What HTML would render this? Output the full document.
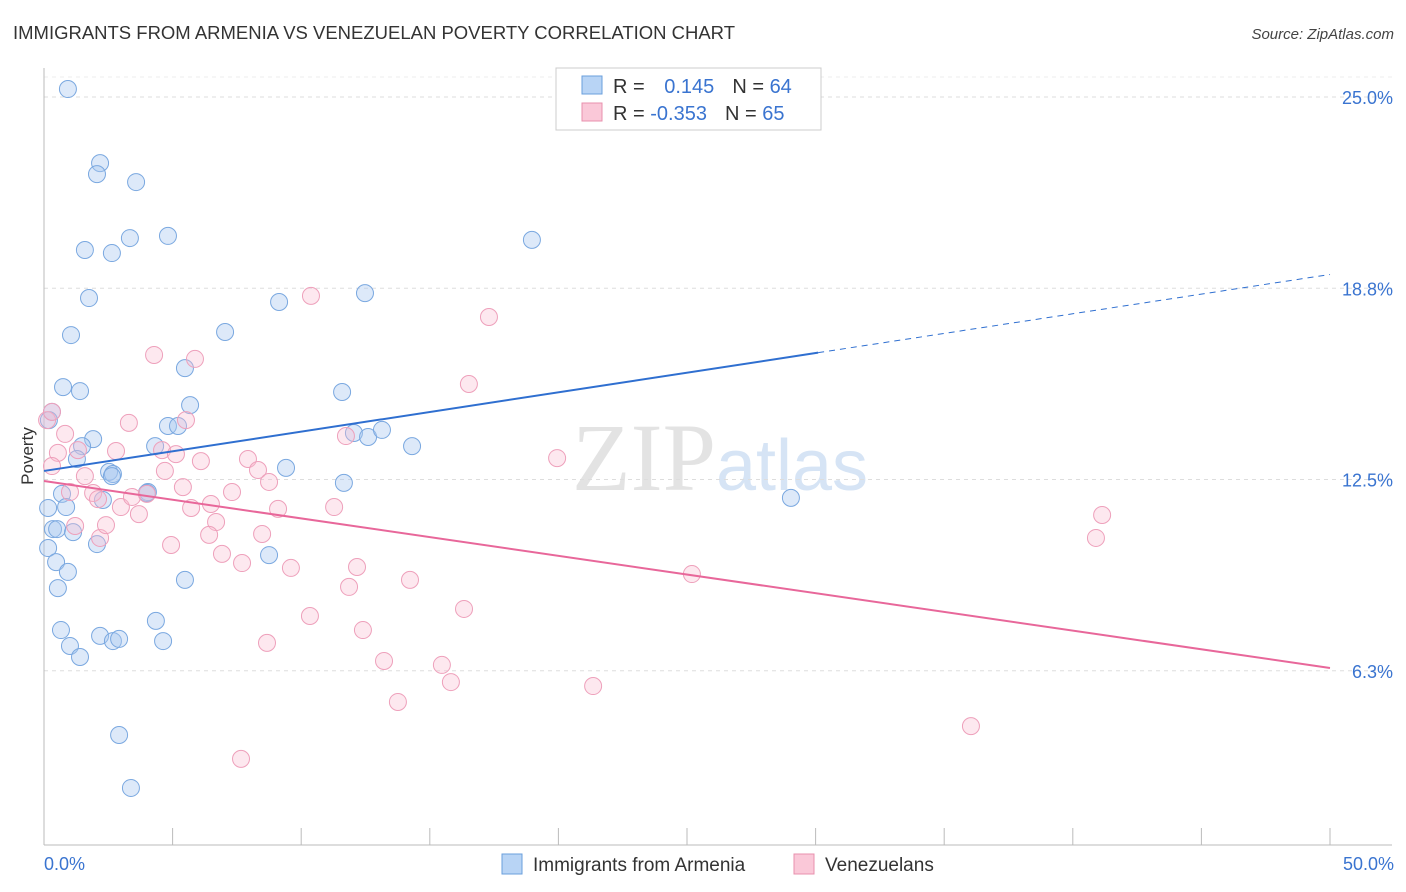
<!DOCTYPE html>
<html><head><meta charset="utf-8">
<style>
body{margin:0;background:#fff;font-family:"Liberation Sans",sans-serif;}
svg{display:block}
</style></head>
<body>
<svg id="chart" width="1406" height="892" xmlns="http://www.w3.org/2000/svg">
<text x="13" y="39" font-size="18.5" fill="#333" textLength="722" lengthAdjust="spacingAndGlyphs">IMMIGRANTS FROM ARMENIA VS VENEZUELAN POVERTY CORRELATION CHART</text>
<text x="1394" y="39" font-size="15" fill="#444" text-anchor="end" font-style="italic">Source: ZipAtlas.com</text>
<text x="720" y="490" font-size="96" fill="#e3e3e3" text-anchor="middle" font-family="Liberation Serif"><tspan>ZIP</tspan><tspan fill="#d6e4f5" font-family="Liberation Sans" font-size="72">atlas</tspan></text>
<g id="grid"></g>
<g id="axes"></g>
<g id="marks"></g>
<g id="trends"></g>
<text transform="translate(33,456) rotate(-90)" font-size="17" fill="#333" text-anchor="middle">Poverty</text>
<g>
<rect x="556" y="68" width="265" height="62" fill="#fff" stroke="#ccc"/>
<rect x="582" y="76" width="20" height="18" fill="#b8d4f5" stroke="#6a9fdc"/>
<rect x="582" y="103" width="20" height="18" fill="#fac8d8" stroke="#e890ae"/>
<text x="613" y="93" font-size="20" fill="#333">R = <tspan fill="#3a74d0" dx="14">0.145</tspan><tspan dx="18">N = </tspan><tspan fill="#3a74d0">64</tspan></text>
<text x="613" y="120" font-size="20" fill="#333">R = <tspan fill="#3a74d0">-0.353</tspan><tspan dx="18">N = </tspan><tspan fill="#3a74d0">65</tspan></text>
</g>
<g>
<rect x="502" y="854" width="20" height="20" fill="#b8d4f5" stroke="#6a9fdc"/>
<text x="533" y="871" font-size="19" fill="#333">Immigrants from Armenia</text>
<rect x="794" y="854" width="20" height="20" fill="#fac8d8" stroke="#e890ae"/>
<text x="825" y="871" font-size="19" fill="#333">Venezuelans</text>
</g>
</svg>
<script>
const blueX=[0.93,2.18,2.06,3.58,3.34,4.82,1.59,2.64,18.97,1.75,12.48,9.14,1.05,7.04,5.48,0.74,1.40,11.59,5.68,0.31,4.82,5.21,1.91,4.32,1.48,12.05,12.60,13.14,14.31,1.28,2.53,2.68,9.41,11.66,0.70,4.04,2.29,29.04,0.16,0.86,0.35,0.51,1.13,2.06,0.16,0.47,0.93,8.75,5.48,0.54,4.35,0.66,2.18,2.68,2.92,4.63,1.01,1.40,2.92,3.38,0.19,4.00,2.64];
const blueY=[25.26,22.84,22.48,22.22,20.39,20.46,20.0,19.90,20.33,18.43,18.59,18.30,17.22,17.32,16.14,15.52,15.39,15.36,14.93,14.71,14.25,14.25,13.82,13.59,13.59,14.02,13.89,14.12,13.59,13.17,12.75,12.68,12.88,12.39,12.03,12.09,11.83,11.90,11.57,11.60,10.88,10.88,10.78,10.39,10.26,9.80,9.48,10.03,9.22,8.95,7.88,7.58,7.39,7.22,7.29,7.22,7.06,6.70,4.15,2.42,14.44,12.06,12.61];
const pinkX=[0.12,0.31,0.82,0.54,1.32,1.59,0.31,1.01,1.91,2.10,1.21,2.18,2.41,2.99,3.30,2.80,3.42,3.69,4.00,4.28,5.87,5.52,4.59,5.13,4.70,5.40,6.10,5.72,6.49,6.69,6.42,4.94,6.92,7.31,7.70,7.93,8.32,8.75,9.10,8.48,9.60,10.38,17.30,16.52,11.74,11.28,12.17,11.86,14.23,16.33,10.34,12.40,8.67,13.22,15.47,15.82,13.76,7.66,19.95,25.19,21.35,41.14,40.90,36.04];
const pinkY=[14.44,14.71,13.99,13.37,13.46,12.61,12.94,12.09,12.06,11.86,10.98,10.59,11.01,11.60,14.35,13.43,11.93,11.37,12.03,16.57,16.44,14.44,13.46,13.33,12.78,12.25,13.10,11.57,11.70,11.11,10.69,10.36,10.07,12.09,9.77,13.17,12.81,12.42,11.54,10.72,9.61,18.50,17.81,15.62,13.92,11.60,9.64,8.99,9.22,8.27,8.04,7.58,7.16,6.57,6.44,5.88,5.23,3.37,13.20,9.41,5.75,11.34,10.59,4.44];
const yTicks=[25,18.75,12.5,6.25];
const yTickLabels=["25.0%","18.8%","12.5%","6.3%"];
const xTicks=[0,5,10,15,20,25,30,35,40,45,50];
const blueTrend=[12.78,19.2];
const blueSolidEnd=30.1;
const pinkTrend=[12.45,6.34];
const NS="http://www.w3.org/2000/svg";
const X=v=>44+v/50*1286;
const Y=v=>97+(25-v)*30.6;
function mk(tag,attrs,parent){const e=document.createElementNS(NS,tag);for(const k in attrs)e.setAttribute(k,attrs[k]);parent.appendChild(e);return e;}
const grid=document.getElementById('grid'),axes=document.getElementById('axes'),marks=document.getElementById('marks'),trends=document.getElementById('trends');
yTicks.forEach((t,i)=>{
 const l=mk('line',{x1:44,x2:1392,y1:Y(t),y2:Y(t),stroke:'#ddd','stroke-dasharray':'4,4'},grid);
 
 
 const tx=mk('text',{x:1393,y:Y(t)+7,'font-size':18,fill:'#3a74d0','text-anchor':'end'},axes);
 tx.textContent=yTickLabels[i];
 
 
});
const tl=mk('line',{x1:44,x2:1392,y1:77,y2:77,stroke:'#eee','stroke-dasharray':'4,4'},grid);


const ya=mk('line',{x1:44,x2:44,y1:68,y2:845,stroke:'#bbb'},axes);


const xa=mk('line',{x1:44,x2:1392,y1:845,y2:845,stroke:'#bbb'},axes);


xTicks.forEach(t=>{
 const l=mk('line',{x1:X(t),x2:X(t),y1:828,y2:845,stroke:'#bbb'},axes);
 
 
});
[[0,'0.0%','start',44],[50,'50.0%','end',1394]].forEach(a=>{
 const tx=mk('text',{x:a[3],y:870,'font-size':18,fill:'#3a74d0','text-anchor':a[2]},axes);
 tx.textContent=a[1];
 
 
});
blueX.forEach((v,i)=>{
 const c=mk('circle',{cx:X(v),cy:Y(blueY[i]),r:8.5,fill:'rgba(170,200,240,0.4)',stroke:'#7aa8e0','stroke-width':1},marks);
 
 
});
pinkX.forEach((v,i)=>{
 const c=mk('circle',{cx:X(v),cy:Y(pinkY[i]),r:8.5,fill:'rgba(248,190,210,0.35)',stroke:'#eea0bb','stroke-width':1},marks);
 
 
});
const by=x=>blueTrend[0]+(blueTrend[1]-blueTrend[0])*x/50;
const b1=mk('line',{x1:X(0),y1:Y(by(0)),x2:X(blueSolidEnd),y2:Y(by(blueSolidEnd)),stroke:'#2f6fd0','stroke-width':2},trends);


const b2=mk('line',{x1:X(blueSolidEnd),y1:Y(by(blueSolidEnd)),x2:X(50),y2:Y(by(50)),stroke:'#2f6fd0','stroke-width':1,'stroke-dasharray':'6,5'},trends);


const p1=mk('line',{x1:X(0),y1:Y(pinkTrend[0]),x2:X(50),y2:Y(pinkTrend[1]),stroke:'#e8679a','stroke-width':2},trends);


</script>
</body></html>
